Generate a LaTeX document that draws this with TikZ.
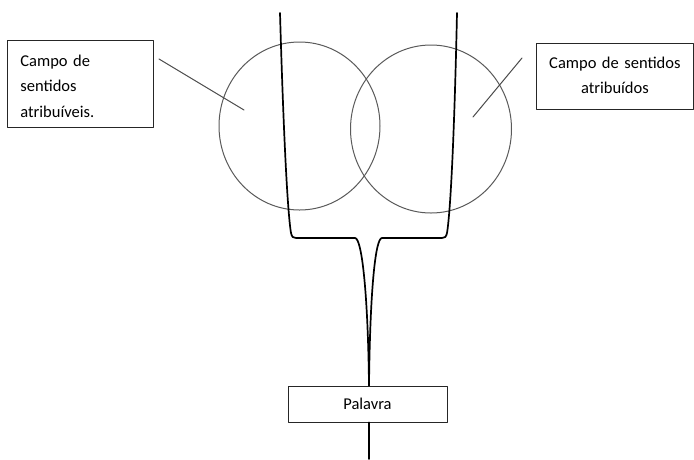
\documentclass[tikz,border=0pt]{standalone}
\usepackage{fontspec}
\setmainfont{Carlito}[WordSpace=0.75]
\definecolor{ringgray}{HTML}{5A5A5A}
\definecolor{leadgray}{HTML}{4A4A4A}
\tikzset{
	fieldbox/.style={draw=black!85, line width=0.8pt, inner ysep=0pt},
	stem/.style={line width=1.7pt, black},
	ring/.style={draw=ringgray, line width=1pt},
	leader/.style={leadgray, line width=1pt}
}
\begin{document}
\begin{tikzpicture}[x=1pt, y=-1pt, font=\fontsize{16.5}{25.5}\selectfont, line join=round, line cap=round]
	\useasboundingbox (0,0) rectangle (694,459);
	\path
	(299.5,126) coordinate (L)
	(431,129) coordinate (R)
	(280,13) coordinate (TL)
	(457,13) coordinate (TR)
	(159,59) coordinate (la)
	(244,110) coordinate (lb)
	(522,58) coordinate (ra)
	(473,117) coordinate (rb)
	(369,459) coordinate (foot)
	;
	% the two fields
	\foreach \c in {L,R}
	\draw[ring] (\c) ellipse (80.5 and 84);
	% boxes
	\node[fieldbox, anchor=north west, inner xsep=13pt, text width=120pt, text height=26pt, text depth=61pt, align=left] (atribuiveis) at (7,40) {Campo de\\sentidos\\atribuíveis.};
	\node[fieldbox, anchor=north west, inner xsep=0pt, text width=157pt, text height=25pt, text depth=40.5pt, align=center] (atribuidos) at (536,43) {Campo de sentidos\\atribuídos};
	\node[fieldbox, minimum width=159pt, minimum height=36pt, fill=white] (palavra) at (367.5,404) {Palavra};
	% the fork
	\draw[stem] (TL) .. controls (284,150) and (288,215) .. (291,233) .. controls (292,237) and (293,238) .. (296,238) -- (355,238) .. controls (362,238) and (368,295) .. (palavra.north -| foot);
	\draw[stem] (TR) .. controls (454,150) and (450,215) .. (447,233) .. controls (446,237) and (445,238) .. (442,238) -- (382,238) .. controls (375,238) and (370,295) .. (palavra.north -| foot);
	\draw[stem] (palavra.south -| foot) -- (foot);
	% leaders
	\draw[leader] (la) -- (lb);
	\draw[leader] (ra) -- (rb);
\end{tikzpicture}
\end{document}
